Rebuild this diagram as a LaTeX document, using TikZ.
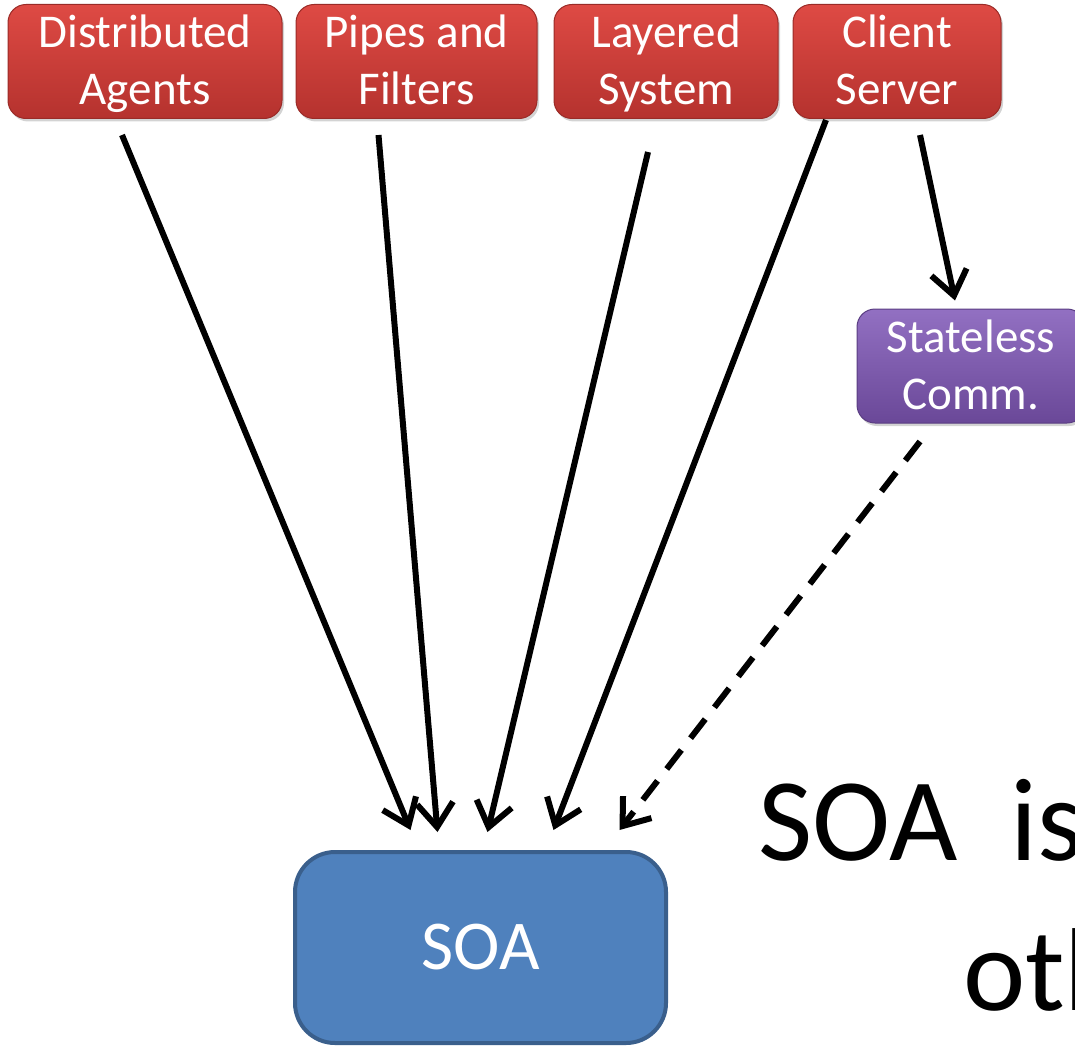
\documentclass[tikz,border=0pt]{standalone}
\usepackage{fontspec}
\setmainfont{Carlito}
\usetikzlibrary{arrows.meta,shadows,calc}
\definecolor{redtop}{HTML}{DE4A44}
\definecolor{redbot}{HTML}{B5322E}
\definecolor{redline}{HTML}{9A2B27}
\definecolor{purtop}{HTML}{9270C2}
\definecolor{purbot}{HTML}{6A4898}
\definecolor{purline}{HTML}{5A3D82}
\definecolor{soafill}{HTML}{4F81BD}
\definecolor{soaline}{HTML}{3A5F8C}
\newcommand\lnstrut{\rule[-13.5pt]{0pt}{57pt}}
\tikzset{
  redbox/.style={rectangle, rounded corners=18pt, top color=redtop, bottom color=redbot,
    draw=redline, line width=1pt, text=white, align=center, inner sep=0pt,
    font=\fontsize{47}{57}\selectfont, minimum height=111pt,
    drop shadow={shadow xshift=2pt, shadow yshift=-3pt, opacity=0.35}},
  purbox/.style={redbox, top color=purtop, bottom color=purbot, draw=purline},
  soabox/.style={rectangle, rounded corners=40pt, fill=soafill, draw=soaline, line width=4pt,
    text=white, font=\fontsize{70}{80}\selectfont, inner sep=0pt},
  conn/.style={line width=6pt, -{Straight Barb[length=24pt,width=36pt,line width=6pt]}},
  dconn/.style={conn, dash pattern=on 24pt off 15pt},
  bigtext/.style={font=\fontsize{118}{130}\selectfont, inner sep=0pt, anchor=base west}
}
\begin{document}
\begin{tikzpicture}[x=1pt,y=-1pt]
\useasboundingbox (0,0) rectangle (1075,1046);
\node[redbox, minimum width=274pt] (da) at (145,61.5) {\lnstrut Distributed\\\lnstrut Agents};
\node[redbox, minimum width=241pt] (pf) at (416.5,61.5) {\lnstrut Pipes and\\\lnstrut Filters};
\node[redbox, minimum width=224pt] (ls) at (666,61.5) {\lnstrut Layered\\\lnstrut System};
\node[redbox, minimum width=208pt] (cs) at (897,61.5) {\lnstrut Client\\\lnstrut Server};
\node[purbox, minimum width=228pt, minimum height=112pt] (sc) at (971,366) {\lnstrut Stateless\\\lnstrut Comm.};
\node[soabox, minimum width=371pt, minimum height=191pt] (soa) at (480.5,947.5) {\raisebox{-4pt}{SOA}};
\node[bigtext] (t1) at (758,860) {SOA\ \ is};
\node[bigtext] (t2) at (963,1010) {oth};
\draw[conn] ($(da.south)+(-23,16)$) -- ($(soa.north)+(-70,-20)$);
\draw[conn] ($(pf.south)+(-38,16)$) -- ($(soa.north)+(-43,-18)$);
\draw[conn] ($(ls.south)+(-18,33)$) -- ($(soa.north)+(7,-18)$);
\draw[conn] ($(cs.south)+(-71,1)$) -- ($(soa.north)+(73,-20)$);
\draw[conn] ($(cs.south)+(23,16)$) -- ($(sc.north)+(-16,-8)$);
\draw[dconn] ($(sc.south)+(-51,18)$) -- ($(soa.north)+(139,-20)$);
\end{tikzpicture}
\end{document}
